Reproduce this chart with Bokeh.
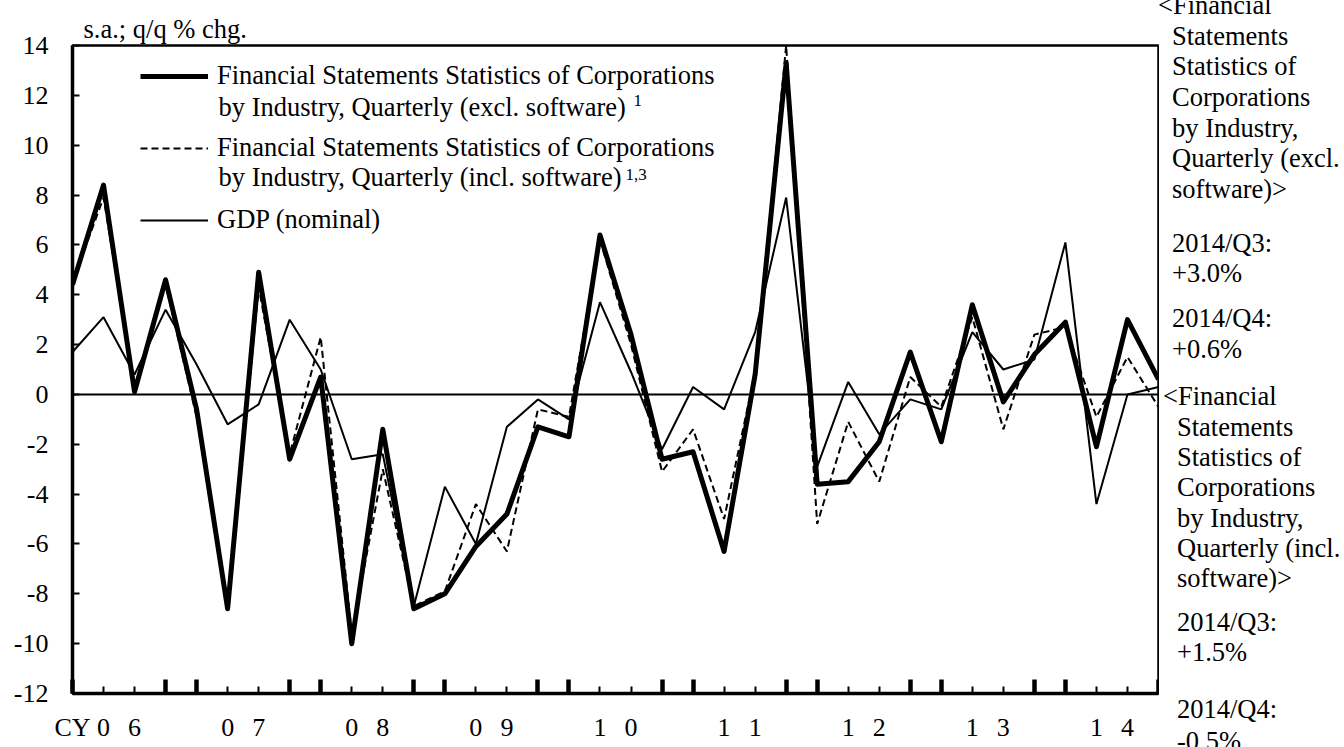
from html import escape
from bokeh.plotting import figure
from bokeh.layouts import row
from bokeh.models import Range1d, FixedTicker, Span, Label, Legend, LegendItem, Div
from bokeh.embed import file_html
from bokeh.resources import INLINE

# ---------------- data ----------------
years = ["06", "07", "08", "09", "10", "11", "12", "13", "14"]
quarters = [f"20{y}/Q{q}" for y in years for q in (1, 2, 3, 4)]

fssc_excl = [4.4, 8.4, 0.1, 4.6, -0.6, -8.6, 4.9, -2.6, 0.7, -10.0, -1.4, -8.6,
             -8.0, -6.1, -4.8, -1.3, -1.7, 6.4, 2.4, -2.6, -2.3, -6.3, 0.8, 13.3,
             -3.6, -3.5, -1.9, 1.7, -1.9, 3.6, -0.3, 1.6, 2.9, -2.1, 3.0, 0.6]
fssc_incl = [4.5, 7.9, 0.3, 4.4, -0.9, -8.5, 4.3, -2.4, 2.3, -9.6, -3.0, -8.5,
             -7.9, -4.4, -6.3, -0.6, -0.9, 6.2, 2.0, -3.1, -1.4, -5.0, 0.9, 14.0,
             -5.2, -1.1, -3.5, 0.7, -0.5, 3.1, -1.4, 2.4, 2.7, -0.9, 1.5, -0.5]
gdp_nominal = [1.7, 3.1, 0.8, 3.4, 1.2, -1.2, -0.4, 3.0, 1.0, -2.6, -2.4, -8.5,
               -3.7, -6.0, -1.3, -0.2, -1.0, 3.7, 0.9, -2.2, 0.3, -0.6, 2.5, 7.9,
               -2.9, 0.5, -1.6, -0.2, -0.6, 2.5, 1.0, 1.4, 6.1, -4.4, 0.0, 0.3]

y_ticks = list(range(-12, 15, 2))
y_tick_labels = ["-12", "-10", "-8", "-6", "-4", "-2", "0",
                 "2", "4", "6", "8", "10", "12", "14"]
unit_label = "s.a.; q/q % chg."
x_prefix = "CY"
legend_labels = [
    ("Financial Statements Statistics of Corporations",
     "by Industry, Quarterly (excl. software)", "1"),
    ("Financial Statements Statistics of Corporations",
     "by Industry, Quarterly (incl. software)", "1,3"),
    ("GDP (nominal)", None, None),
]
side_block_1 = ["<Financial", "Statements", "Statistics of", "Corporations",
                "by Industry,", "Quarterly (excl.", "software)>"]
side_block_1_vals = ["2014/Q3:", "+3.0%", "2014/Q4:", "+0.6%"]
side_block_2 = ["<Financial", "Statements", "Statistics of", "Corporations",
                "by Industry,", "Quarterly (incl.", "software)>"]
side_block_2_vals = ["2014/Q3:", "+1.5%", "2014/Q4:", "-0.5%"]

# ---------------- layout constants (screen px) ----------------
W, H = 1344, 747
FL, FR, FT, FB = 72, 1158, 45, 693          # frame edges
RB = 1                                       # right border of main figure
N = len(quarters)
XMAX = N - 1
YMIN, YMAX = -12, 14
FONT = "Liberation Serif"
FS = "26.5px"


def dx(px):
    return (px - FL) * XMAX / (FR - FL)


def dy(py):
    return YMAX - (py - FT) * (YMAX - YMIN) / (FB - FT)


xs = list(range(N))

p = figure(frame_width=FR - FL, frame_height=FB - FT,
           min_border_left=FL, min_border_right=RB,
           min_border_top=FT, min_border_bottom=H - FB,
           x_range=Range1d(0, XMAX), y_range=Range1d(YMIN, YMAX),
           output_backend="svg", toolbar_location=None)
p.xgrid.visible = False
p.ygrid.visible = False
p.outline_line_color = "black"
p.outline_line_width = 2.5
p.background_fill_color = "white"
p.border_fill_color = "white"

p.title.text = unit_label
p.title.align = "left"
p.title.offset = 11
p.title.standoff = 4
p.title.text_font = FONT
p.title.text_font_style = "normal"
p.title.text_font_size = FS
p.title.text_color = "black"

# y axis
ya = p.yaxis[0]
ya.ticker = FixedTicker(ticks=y_ticks)
ya.major_label_overrides = {t: s for t, s in zip(y_ticks, y_tick_labels)}
ya.major_tick_in = 7
ya.major_tick_out = 0
ya.major_tick_line_width = 2
ya.minor_tick_line_color = None
ya.axis_line_width = 3.5
ya.major_label_standoff = 24
ya.major_label_text_font = FONT
ya.major_label_text_font_size = "26px"
ya.major_label_text_color = "black"

# x axis: small ticks (labelled) at Q2/Q3, big ticks at Q4/Q1
xa = p.xaxis[0]
q23 = [i for i in xs if i % 4 in (1, 2)]
q41 = [i for i in xs if i % 4 in (0, 3)]
xa.ticker = FixedTicker(ticks=[0] + q23, minor_ticks=q41)
overrides = {0: x_prefix}
for k, y in enumerate(years):
    overrides[4 * k + 1] = y[0]
    overrides[4 * k + 2] = y[1]
xa.major_label_overrides = overrides
xa.major_tick_in = 7
xa.major_tick_out = 0
xa.major_tick_line_width = 2
xa.minor_tick_in = 14
xa.minor_tick_out = 0
xa.minor_tick_line_width = 4.5
xa.axis_line_width = 3.5
xa.major_label_standoff = 19
xa.major_label_text_font = FONT
xa.major_label_text_font_size = "26px"
xa.major_label_text_color = "black"

p.add_layout(Span(location=0, dimension="width", line_color="black", line_width=2))

r_excl = p.line(xs, fssc_excl, line_color="black", line_width=5, line_join="round")
r_incl = p.line(xs, fssc_incl, line_color="black", line_width=2, line_dash="7 4")
r_gdp = p.line(xs, gdp_nominal, line_color="black", line_width=2)

items = [LegendItem(label=legend_labels[0][0], renderers=[r_excl]),
         LegendItem(label=legend_labels[1][0], renderers=[r_incl]),
         LegendItem(label=legend_labels[2][0], renderers=[r_gdp])]
legend = Legend(items=items, location=(68, 458),
                glyph_width=68, glyph_height=30, label_height=30,
                label_standoff=9, spacing=41, padding=0, margin=0,
                label_text_font=FONT, label_text_font_size=FS,
                label_text_color="black",
                border_line_alpha=0, background_fill_alpha=0)
p.add_layout(legend)


def add_text(txt, px, py, size=FS):
    p.add_layout(Label(x=dx(px), y=dy(py), text=txt, text_font=FONT,
                       text_font_size=size, text_color="black",
                       text_align="left", text_baseline="alphabetic"))


add_text(legend_labels[0][1], 218, 106)
add_text(legend_labels[0][2], 633, 100, size="17px")
add_text(legend_labels[1][1], 218, 176)
add_text(legend_labels[1][2], 625, 174, size="17px")

# ---------------- right-hand notes (HTML text) ----------------
SX0 = FR + RB
SW = W - SX0
ASC = 0.8375 * 26.5   # baseline offset inside a line-height:1 box


def span(txt, left, baseline):
    return (f'<span style="position:absolute;left:{left}px;top:{baseline - ASC:.1f}px;'
            f'white-space:nowrap;line-height:1;">{escape(txt)}</span>')


parts = []
b1_y = [14, 45, 75, 106, 137, 167, 198]
for i, t in enumerate(side_block_1):
    parts.append(span(t, (1158 if i == 0 else 1172) - SX0, b1_y[i]))
for t, yy in zip(side_block_1_vals, [252, 282, 327, 358]):
    parts.append(span(t, 1172 - SX0, yy))
b2_y = [405, 436, 466, 496, 527, 557, 587]
for i, t in enumerate(side_block_2):
    parts.append(span(t, (1163 if i == 0 else 1177) - SX0, b2_y[i]))
for t, yy in zip(side_block_2_vals, [631, 661, 718, 750]):
    parts.append(span(t, 1177 - SX0, yy))

html = (f'<div style="position:relative;width:{SW}px;height:{H}px;overflow:hidden;'
        f"font-family:'{FONT}';font-size:{FS};color:black;background:white;\">"
        + "".join(parts) + "</div>")
notes = Div(text=html, width=SW, height=H, margin=0)

layout = row(p, notes, spacing=0)
open("out.html", "w").write(file_html(layout, INLINE))
